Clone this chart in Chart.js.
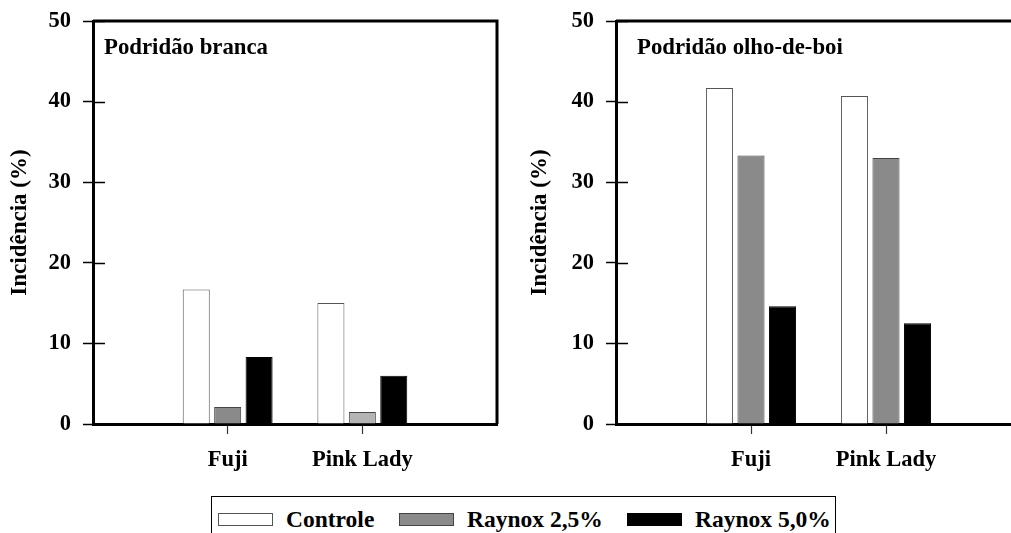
<!DOCTYPE html>
<html>
<head>
<meta charset="utf-8">
<script src="https://cdn.jsdelivr.net/npm/chart.js@4/dist/chart.umd.min.js"></script>
<style>
  html, body { margin: 0; padding: 0; background: #fff; overflow: hidden; width: 1011px; height: 533px; }
  body { position: relative; font-family: "Liberation Serif", "Times New Roman", serif; }
  .painel { position: absolute; top: 0; height: 490px; }
  #painelA { left: 0; width: 510px; }
  #painelB { left: 520px; width: 514px; }
  #legenda {
    position: absolute; left: 211px; top: 496px; width: 625px; height: 60px;
    border: 1.5px solid #000; box-sizing: border-box;
  }
  #legenda .item { position: absolute; top: 10px; display: flex; align-items: center; height: 24px; }
  #legenda .cor { width: 53px; height: 11px; border: 1px solid #555; margin-right: 13px; }
  #legenda .txt { font: bold 23.5px "Liberation Serif", serif; line-height: 24px; color: #000; white-space: nowrap; }
</style>
</head>
<body>
<div class="painel" id="painelA"><canvas id="graficoA"></canvas></div>
<div class="painel" id="painelB"><canvas id="graficoB"></canvas></div>
<div id="legenda"></div>

<script>
// Dados -------------------------------------------------------------
const cultivares = ["Fuji", "Pink Lady"];
const series = ["Controle", "Raynox 2,5%", "Raynox 5,0%"];

// Podridão branca
const brancaControle = [16.7, 15.0];
const brancaRaynox25 = [2.1, 1.5];
const brancaRaynox50 = [8.3, 6.0];

// Podridão olho-de-boi
const olhoControle = [41.7, 40.7];
const olhoRaynox25 = [33.3, 33.0];
const olhoRaynox50 = [14.6, 12.5];

const yTicks = [0, 10, 20, 30, 40, 50];

// Estilo -------------------------------------------------------------
const fonte = "'Liberation Serif', 'Times New Roman', serif";
const coresFundo = ["#ffffff", "#8a8a8a", "#000000"];
const coresBorda = ["#555555", "#444444", "#000000"];
const posLegenda = [6, 187, 415]; // x de cada item dentro da caixa

// rótulos com espaço vazio nas pontas para as categorias ficarem em 1/3 e 2/3
const rotulos = ["", ...cultivares, ""];
function pad(arr) { return [null, ...arr, null]; }

// moldura + ticks internos + título do painel
const molduraPlugin = {
  id: "moldura",
  afterDraw(chart, args, opts) {
    const { ctx, chartArea } = chart;
    const y = chart.scales.y;
    ctx.save();
    ctx.strokeStyle = "#000";
    ctx.lineWidth = 1.5;
    yTicks.forEach(v => {
      const py = Math.round(y.getPixelForValue(v)) + 0.5;
      ctx.beginPath();
      ctx.moveTo(chartArea.left, py);
      ctx.lineTo(chartArea.left + 12, py);
      ctx.stroke();
    });
    ctx.lineWidth = 3;
    ctx.beginPath();
    ctx.moveTo(chartArea.left, chartArea.top);
    ctx.lineTo(chartArea.right, chartArea.top);
    ctx.lineTo(chartArea.right, chartArea.bottom);
    ctx.stroke();
    ctx.fillStyle = "#000";
    ctx.font = "bold 22.8px " + fonte;
    ctx.textBaseline = "alphabetic";
    ctx.fillText(opts.titulo, chartArea.left + opts.dx, chartArea.top + 33);
    ctx.restore();
  }
};

function criarGrafico(id, titulo, dx, dados, larguraY, cinzas) {
  return new Chart(document.getElementById(id), {
    type: "bar",
    data: {
      labels: rotulos,
      datasets: dados.map((d, i) => ({
        label: series[i],
        data: pad(d),
        backgroundColor: i === 1 && cinzas ? pad(cinzas) : coresFundo[i],
        borderColor: coresBorda[i],
        borderWidth: 1,
        categoryPercentage: 0.70,
        barPercentage: 0.86,
      })),
    },
    options: {
      responsive: true,
      maintainAspectRatio: false,
      animation: false,
      layout: { padding: { top: 10, right: 13, bottom: 0, left: 0 } },
      plugins: {
        legend: { display: false },
        tooltip: { enabled: false },
        moldura: { titulo: titulo, dx: dx },
      },
      scales: {
        x: {
          offset: false,
          grid: {
            offset: false,
            drawOnChartArea: false,
            tickLength: 10,
            tickWidth: 1.2,
            tickColor: c => (c.tick && c.tick.label ? "#333" : "rgba(0,0,0,0)"),
          },
          border: { display: true, color: "#000", width: 3 },
          ticks: {
            color: "#000",
            padding: 13,
            maxRotation: 0,
            autoSkip: false,
            font: { family: fonte, size: 22.5, weight: "bold" },
          },
          afterFit(scale) { scale.height = 66; },
        },
        y: {
          min: 0,
          max: 50,
          ticks: {
            stepSize: 10,
            color: "#000",
            padding: 12,
            font: { family: fonte, size: 22.5, weight: "bold", lineHeight: 0.8 },
          },
          grid: { drawOnChartArea: false, tickLength: 10, tickWidth: 1.5, tickColor: "#000" },
          border: { display: true, color: "#000", width: 3 },
          title: {
            display: true,
            text: "Incidência (%)",
            color: "#000",
            padding: { top: 6, bottom: 0 },
            font: { family: fonte, size: 23, weight: "bold" },
          },
          afterFit(scale) { scale.width = larguraY; },
        },
      },
    },
    plugins: [molduraPlugin],
  });
}

criarGrafico("graficoA", "Podridão branca", 11,
  [brancaControle, brancaRaynox25, brancaRaynox50], 93, ["#8a8a8a", "#b4b4b4"]);
criarGrafico("graficoB", "Podridão olho-de-boi", 21,
  [olhoControle, olhoRaynox25, olhoRaynox50], 96, null);

// Legenda -------------------------------------------------------------
const legenda = document.getElementById("legenda");
series.forEach((nome, i) => {
  const item = document.createElement("div");
  item.className = "item";
  item.style.left = posLegenda[i] + "px";
  const cor = document.createElement("div");
  cor.className = "cor";
  cor.style.background = coresFundo[i];
  cor.style.borderColor = coresBorda[i];
  const txt = document.createElement("span");
  txt.className = "txt";
  txt.textContent = nome;
  item.appendChild(cor);
  item.appendChild(txt);
  legenda.appendChild(item);
});
</script>
</body>
</html>
